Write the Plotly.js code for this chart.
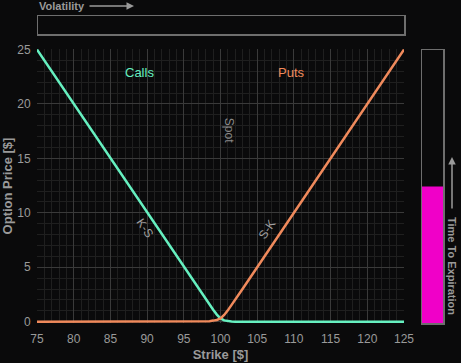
<!DOCTYPE html>
<html><head><meta charset="utf-8">
<script src="https://cdn.plot.ly/plotly-3.0.1.min.js"></script>
<style>html,body{margin:0;padding:0;background:#0a0a0b;}#chart{width:461px;height:363px;}</style>
</head><body><div id="chart"></div>
<script>
// Data
const strikes = [75, 80, 85, 90, 95, 97, 98, 98.5, 99, 99.5, 100, 100.5, 101, 101.5, 102, 103, 105, 110, 115, 120, 125];
const callPrices = [25, 20, 15, 10, 5, 3.0, 2.02, 1.55, 1.1, 0.65, 0.3, 0.12, 0.04, 0.01, 0, 0, 0, 0, 0, 0, 0];
const putPrices  = [0, 0, 0, 0, 0, 0, 0.02, 0.05, 0.1, 0.16, 0.3, 0.62, 1.04, 1.51, 2.0, 3.0, 5, 10, 15, 20, 25];
const spot = 100;
const timeToExpiration = 0.5;   // fraction of bar
const volatility = 0.0;          // fraction of bar
const xTicks = [75, 80, 85, 90, 95, 100, 105, 110, 115, 120, 125];
const yTicks = [0, 5, 10, 15, 20, 25];

const green = '#66f0c0', orange = '#f08a5c', magenta = '#f000c8';
const txt = '#9a9a9a', frame = '#6e6e6e';

const traces = [
  {x: strikes, y: callPrices, type: 'scatter', mode: 'lines', line: {color: green, width: 2.5}, xaxis: 'x', yaxis: 'y', hoverinfo: 'skip'},
  {x: strikes, y: putPrices, type: 'scatter', mode: 'lines', line: {color: orange, width: 2.5}, xaxis: 'x', yaxis: 'y', hoverinfo: 'skip'},
  {x: [0], y: [timeToExpiration], type: 'bar', width: [1], marker: {color: magenta}, xaxis: 'x2', yaxis: 'y2', hoverinfo: 'skip'},
  {x: [volatility], y: [0], type: 'bar', orientation: 'h', width: [1], marker: {color: magenta}, xaxis: 'x3', yaxis: 'y3', hoverinfo: 'skip'}
];

const W = 406, H = 307; // plot area in pixels (paper)
const px = v => (v - 37) / W;
const py = v => (323 - v) / H;

const layout = {
  width: 461, height: 363,
  margin: {l: 37, r: 18, t: 16, b: 40},
  paper_bgcolor: '#0a0a0b', plot_bgcolor: '#0a0a0b',
  showlegend: false,
  font: {family: 'Liberation Sans, Arial, sans-serif', color: txt, size: 12},
  xaxis: {
    domain: [0, 367 / W], range: [75, 125], tickvals: xTicks,
    ticks: 'outside', ticklen: 5, tickcolor: 'rgba(0,0,0,0)',
    gridcolor: '#3a3a3a', gridwidth: 1, zeroline: false, showline: false,
    minor: {dtick: 1, showgrid: true, gridcolor: '#1f1f1f', gridwidth: 1, ticks: ''},
    tickfont: {size: 12, color: txt},
    title: {text: '<b>Strike [$]</b>', font: {size: 13, color: txt}, standoff: 4},
    anchor: 'y'
  },
  yaxis: {
    domain: [0, 274 / H], range: [-0.12, 25.05], tickvals: yTicks,
    ticks: 'outside', ticklen: 3, tickcolor: 'rgba(0,0,0,0)',
    gridcolor: '#3a3a3a', gridwidth: 1, zeroline: false, showline: false,
    minor: {dtick: 1, showgrid: true, gridcolor: '#1f1f1f', gridwidth: 1, ticks: ''},
    tickfont: {size: 12, color: txt},
    title: {text: '<b>Option Price [$]</b>', font: {size: 13, color: txt}, standoff: 4},
    anchor: 'x'
  },
  xaxis2: {domain: [px(422), px(443)], range: [-0.5, 0.5], showticklabels: false, showgrid: false, zeroline: false,
    showline: true, mirror: true, linecolor: frame, linewidth: 1.5, anchor: 'y2', ticks: ''},
  yaxis2: {domain: [py(323), py(50)], range: [0, 1], showticklabels: false, showgrid: false, zeroline: false,
    showline: true, mirror: true, linecolor: frame, linewidth: 1.5, anchor: 'x2', ticks: ''},
  xaxis3: {domain: [px(38), px(404)], range: [0, 1], showticklabels: false, showgrid: false, zeroline: false,
    showline: true, mirror: true, linecolor: frame, linewidth: 1.5, anchor: 'y3', ticks: ''},
  yaxis3: {domain: [py(34), py(16)], range: [-0.5, 0.5], showticklabels: false, showgrid: false, zeroline: false,
    showline: true, mirror: true, linecolor: frame, linewidth: 1.5, anchor: 'x3', ticks: ''},
  shapes: [
    {type: 'line', xref: 'x', yref: 'y', x0: spot, x1: spot, y0: 0, y1: 25,
     line: {color: '#8a8a8a', width: 1, dash: 'dash'}, layer: 'below'}
  ],
  annotations: [
    {xref: 'x', yref: 'y', x: 89.0, y: 22.9, text: 'Calls', showarrow: false, font: {size: 13, color: green}},
    {xref: 'x', yref: 'y', x: 109.7, y: 22.9, text: 'Puts', showarrow: false, font: {size: 13, color: orange}},
    {xref: 'x', yref: 'y', x: 101.2, y: 17.6, text: 'Spot', showarrow: false, textangle: 90, font: {size: 12, color: '#8a8a8a'}},
    {xref: 'x', yref: 'y', x: 89.7, y: 8.6, text: 'K-S', showarrow: false, textangle: 56, font: {size: 12, color: '#a0a0a0'}},
    {xref: 'x', yref: 'y', x: 106.4, y: 8.5, text: 'S-K', showarrow: false, textangle: -56, font: {size: 12, color: '#a0a0a0'}},
    {xref: 'paper', yref: 'paper', x: px(37), y: py(6), xanchor: 'left', yanchor: 'middle', text: '<b>Volatility</b>', showarrow: false, font: {size: 11, color: txt}},
    {xref: 'paper', yref: 'paper', x: px(134), y: py(6), ax: -46, ay: 0, text: '', showarrow: true, arrowhead: 2, arrowsize: 1, arrowwidth: 1.5, arrowcolor: txt},
    {xref: 'paper', yref: 'paper', x: px(452), y: py(266), xanchor: 'center', yanchor: 'middle', text: '<b>Time To Expiration</b>', textangle: 90, showarrow: false, font: {size: 11, color: txt}},
    {xref: 'paper', yref: 'paper', x: px(452), y: py(157), ax: 0, ay: 53, text: '', showarrow: true, arrowhead: 2, arrowsize: 1, arrowwidth: 1.5, arrowcolor: txt}
  ]
};

Plotly.newPlot('chart', traces, layout, {displayModeBar: false, staticPlot: true});
</script></body></html>
